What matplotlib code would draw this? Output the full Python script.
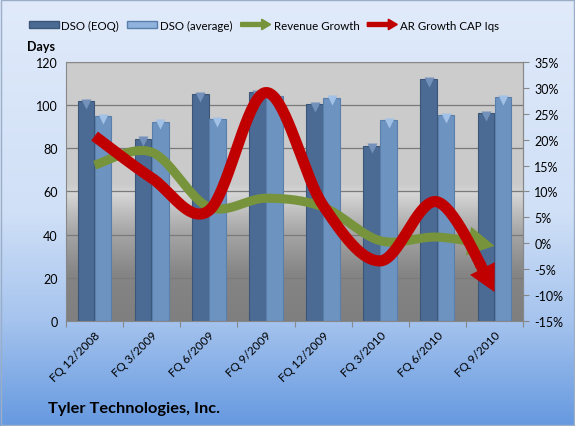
import numpy as np
import matplotlib
matplotlib.use('Agg')
import matplotlib.pyplot as plt
import matplotlib.patches as mpatches
from matplotlib.colors import LinearSegmentedColormap
from matplotlib.legend_handler import HandlerPatch
from matplotlib.transforms import offset_copy

plt.rcParams['font.family'] = ['Lato', 'DejaVu Sans']

# Dados
quarters = ['FQ 12/2008', 'FQ 3/2009', 'FQ 6/2009', 'FQ 9/2009',
            'FQ 12/2009', 'FQ 3/2010', 'FQ 6/2010', 'FQ 9/2010']
dso_eoq = [101.8, 84.5, 105, 106, 100.5, 81.3, 112, 96.3]
dso_avg = [94.8, 92.4, 93.5, 104.3, 103.4, 93, 95.4, 103.7]
revenue_growth = [15.1, 17.6, 7.0, 8.7, 7.0, 0.5, 1.2, -0.5]
ar_growth = [20.7, 12.6, 6.3, 29.1, 7.3, -3.4, 8.0, -9.4]

c_eoq = '#4b6b94'
c_avg = '#6d93c0'
c_green = '#77933c'
c_red = '#c00000'


def smooth(xv, yv, n=40):
    # curva suavizada estilo Excel (Catmull-Rom)
    p = np.column_stack([xv, yv]).astype(float)
    p = np.vstack([p[0], p, p[-1]])
    out = []
    t = np.linspace(0, 1, n)[:, None]
    for i in range(1, len(p) - 2):
        p0, p1, p2, p3 = p[i - 1], p[i], p[i + 1], p[i + 2]
        seg = 0.5 * ((2 * p1) + (-p0 + p2) * t + (2 * p0 - 5 * p1 + 4 * p2 - p3) * t ** 2
                     + (-p0 + 3 * p1 - 3 * p2 + p3) * t ** 3)
        out.append(seg if i == 1 else seg[1:])
    out = np.vstack(out)
    return out[:, 0], out[:, 1]


fig = plt.figure(figsize=(5.75, 4.27), dpi=100)

# fundo azul em degradê
bg = fig.add_axes([0, 0, 1, 1], zorder=-10)
bg_cmap = LinearSegmentedColormap.from_list('bg', [(0, '#6699e0'), (0.25, '#a6c4ee'),
                                                   (0.5, '#d0e0f7'), (1, '#e0eafa')])
bg.imshow(np.linspace(0, 1, 256)[:, None], cmap=bg_cmap, aspect='auto',
          extent=[0, 1, 0, 1], origin='lower')
bg.axis('off')
fig.patches.append(mpatches.Rectangle((0.002, 0.002), 0.996, 0.996, transform=fig.transFigure,
                                      fill=False, edgecolor='#9aaec8', lw=1))

ax = fig.add_axes([0.1148, 0.2459, 0.7948, 0.6066])
x = np.arange(len(quarters))

# degradê cinza da área de plotagem
area_cmap = LinearSegmentedColormap.from_list('area', [(0, '#7f7f7f'), (0.18, '#858585'),
                                                       (0.35, '#a8a8a8'), (0.49, '#d6d6d6'),
                                                       (0.53, '#cacaca'), (1, '#cdcdcd')])
ax.imshow(np.linspace(0, 1, 256)[:, None], cmap=area_cmap, aspect='auto',
          extent=[0, 1, 0, 1], origin='lower', transform=ax.transAxes, zorder=0)

w = 0.29
ax.bar(x - 0.15, dso_eoq, w, color=c_eoq, edgecolor='#3b5678', lw=0.8, zorder=2)
ax.bar(x + 0.15, dso_avg, w, color=c_avg, edgecolor='#5a7fab', lw=0.8, zorder=2)
cap = offset_copy(ax.transData, fig=fig, y=-1.8, units='points')
ax.plot(x - 0.15, dso_eoq, 'v', color='#7391ba', ms=6.5, mec='none', transform=cap, zorder=3)
ax.plot(x + 0.15, dso_avg, 'v', color='#a2c1e6', ms=6.5, mec='none', transform=cap, zorder=3)

ax.set_xlim(-0.5, len(quarters) - 0.5)
ax.set_ylim(0, 120)
ax.set_yticks(range(0, 121, 20))
ax.grid(axis='y', color='#7a7a7a', lw=0.9, zorder=1)
ax.set_axisbelow(True)
ax.set_xticks(np.arange(-0.5, len(quarters), 1), minor=False)
ax.set_xticklabels([])
ax.set_xticks(x, minor=True)
ax.set_xticklabels(quarters, minor=True, rotation=45, ha='right', va='top',
                   rotation_mode='anchor', fontsize=8.5)
ax.tick_params(axis='x', which='minor', length=0, pad=6)
ax.tick_params(axis='x', which='major', length=4, color='#888888')
ax.tick_params(axis='y', length=0, labelsize=9, pad=6)
for s in ax.spines.values():
    s.set_color('#888888')
ax.spines['top'].set_visible(False)

ax2 = ax.twinx()
ax2.set_ylim(-15, 35)
ax2.set_yticks(range(-15, 36, 5))
ax2.set_yticklabels([f'{v}%' for v in range(-15, 36, 5)])
ax2.tick_params(axis='y', length=4, color='#888888', labelsize=9, pad=4)
for s in ax2.spines.values():
    s.set_visible(False)
ax2.spines['right'].set_visible(True)
ax2.spines['right'].set_color('#888888')
ax.plot([-0.5, 7.5], [120, 120], color='#888888', lw=0.8, clip_on=False, zorder=4)


def curve_arrow(values, color, lw, tail, head_w, head_l, back):
    sx, sy = smooth(x, values)
    disp = ax2.transData.transform(np.column_stack([sx, sy]))
    d = np.r_[0, np.cumsum(np.hypot(*np.diff(disp[::-1], axis=0).T))]
    k = len(sx) - 1 - np.searchsorted(d, back)
    ax2.plot(sx[:k + 2], sy[:k + 2], color=color, lw=lw, solid_capstyle='butt', zorder=5)
    ax2.annotate('', xy=(sx[-1], sy[-1]), xytext=(sx[k], sy[k]),
                 arrowprops=dict(arrowstyle=f'simple,head_length={head_l},head_width={head_w},'
                                            f'tail_width={tail}',
                                 fc=color, ec='none', mutation_scale=10,
                                 shrinkA=0, shrinkB=0), zorder=5)


curve_arrow(revenue_growth, c_green, 6.5, 0.65, 2.1, 1.9, 30)
curve_arrow(ar_growth, c_red, 8, 0.8, 2.0, 1.9, 30)


def make_arrow(legend, orig_handle, xdescent, ydescent, width, height, fontsize):
    return mpatches.FancyArrow(-xdescent, height / 2 - ydescent, width, 0, width=height * 0.6,
                               head_width=height * 1.6, head_length=width * 0.3,
                               length_includes_head=True)


h_eoq = mpatches.Patch(facecolor=c_eoq, edgecolor='#3b5678', label='DSO (EOQ)')
h_avg = mpatches.Patch(facecolor='#8fb3dd', edgecolor='#5a7fab', label='DSO (average)')
h_rev = mpatches.Patch(color=c_green, label='Revenue Growth')
h_ar = mpatches.Patch(color=c_red, label='AR Growth CAP Iqs')
fig.legend(handles=[h_eoq, h_avg, h_rev, h_ar], loc='center', bbox_to_anchor=(0.459, 0.939),
           ncol=4, frameon=False, fontsize=8.3, handlelength=2.6, handleheight=0.5,
           columnspacing=0.7, handletextpad=0.25,
           handler_map={h_rev: HandlerPatch(patch_func=make_arrow),
                        h_ar: HandlerPatch(patch_func=make_arrow)})

fig.text(0.047, 0.89, 'Days', fontsize=9, fontweight='bold', va='center')
fig.text(0.083, 0.042, 'Tyler Technologies, Inc.', fontsize=11.8, fontweight='bold', va='center')

fig.savefig('out.png', dpi=100)
